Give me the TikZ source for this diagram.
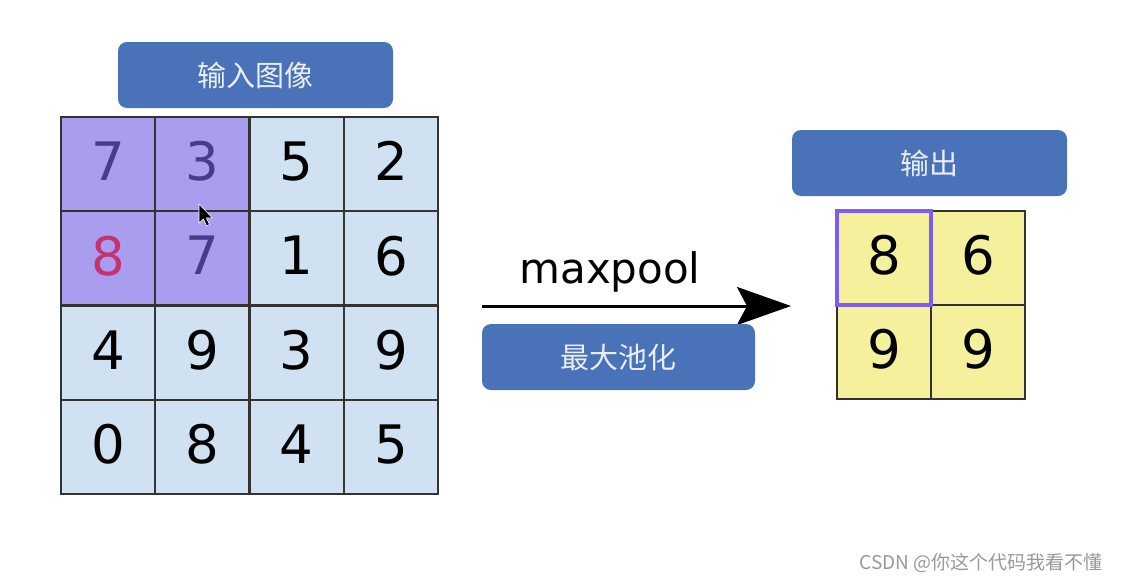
\documentclass[tikz,border=0pt]{standalone}
\usepackage{fontspec}
\setmainfont{DejaVu Sans}
\newfontfamily\cjk{Noto Sans CJK SC}
\usetikzlibrary{arrows.meta}
\definecolor{boxblue}{HTML}{4A72B9}
\definecolor{poolpurple}{HTML}{A99DF0}
\definecolor{pooltext}{HTML}{4B3A8C}
\definecolor{maxred}{HTML}{C2336F}
\definecolor{cellblue}{HTML}{D0E1F1}
\definecolor{cellyellow}{HTML}{F4F09C}
\definecolor{hlpurple}{HTML}{7D5DF0}
\tikzset{
  labelbox/.style={rounded corners=9pt, fill=boxblue, minimum width=275pt, minimum height=66pt,
    text=white!88!boxblue, font=\cjk\fontsize{29}{29}\selectfont},
  incell/.style={fill=cellblue, minimum size=94.3pt, inner sep=0pt,
    text depth=6pt, font=\fontsize{53}{53}\selectfont},
  poolcell/.style={incell, fill=poolpurple, text=pooltext},
  outcell/.style={incell, fill=cellyellow, minimum size=94pt},
  cellline/.style={draw=black!80, line width=1.8pt}
}

\begin{document}
\begin{tikzpicture}[x=1pt, y=-1pt]
		%%%%% START %%%%%
		\useasboundingbox[fill=white] (0, 0) rectangle (1121, 581);
		
		\node[labelbox] (inlabel) at (255.5, 75) {输入图像};
		
		\node[poolcell] (a11) at (108.1, 164.1) {7};
		\node[poolcell] (a12) at (202.4, 164.1) {3};
		\node[incell] (a13) at (296.7, 164.1) {5};
		\node[incell] (a14) at (391.0, 164.1) {2};
		
		\node[poolcell, text=maxred] (a21) at (108.1, 258.4) {8};
		\node[poolcell] (a22) at (202.4, 258.4) {7};
		\node[incell] (a23) at (296.7, 258.4) {1};
		\node[incell] (a24) at (391.0, 258.4) {6};
		
		\node[incell] (a31) at (108.1, 352.7) {4};
		\node[incell] (a32) at (202.4, 352.7) {9};
		\node[incell] (a33) at (296.7, 352.7) {3};
		\node[incell] (a34) at (391.0, 352.7) {9};
		
		\node[incell] (a41) at (108.1, 447.0) {0};
		\node[incell] (a42) at (202.4, 447.0) {8};
		\node[incell] (a43) at (296.7, 447.0) {4};
		\node[incell] (a44) at (391.0, 447.0) {5};
		
		\foreach \c in {a11,a12,a13,a14,a21,a22,a23,a24,a31,a32,a33,a34,a41,a42,a43,a44}
			\draw[cellline] (\c.north west) rectangle (\c.south east);
		
		% mouse pointer
		\draw[fill=black, draw=white, line width=0.6pt] (199, 204) -- (199, 223) -- (203.5, 219) -- (206.5, 226)
			-- (209.5, 224.5) -- (206.5, 218) -- (212.5, 218) -- cycle;
		
		\node[font=\fontsize{42}{42}\selectfont, anchor=base] (mp) at (610, 283) {maxpool};
		\coordinate (pstart) at (482, 306);
		\coordinate (pend) at (791, 306);
		\draw[line width=3pt, -{Stealth[length=54pt, width=38pt, inset=10pt]}] (pstart) -- (pend);
		\node[labelbox, minimum width=273pt] (poollabel) at (618.5, 357) {最大池化};
		
		\node[labelbox] (outlabel) at (929.5, 163) {输出};
		
		\node[outcell] (o11) at (884, 258) {8};
		\node[outcell] (o12) at (978, 258) {6};
		\node[outcell] (o21) at (884, 352) {9};
		\node[outcell] (o22) at (978, 352) {9};
		\foreach \c in {o11,o12,o21,o22}
			\draw[cellline] (\c.north west) rectangle (\c.south east);
		\draw[hlpurple, line width=4pt] (o11.north west) rectangle (o11.south east);
		
		\node[font=\cjk\fontsize{19}{19}\selectfont, text=black!40, anchor=east] (mark) at (1106, 563) {CSDN @你这个代码我看不懂};
		%%%%% END %%%%%
	\end{tikzpicture}
\end{document}
